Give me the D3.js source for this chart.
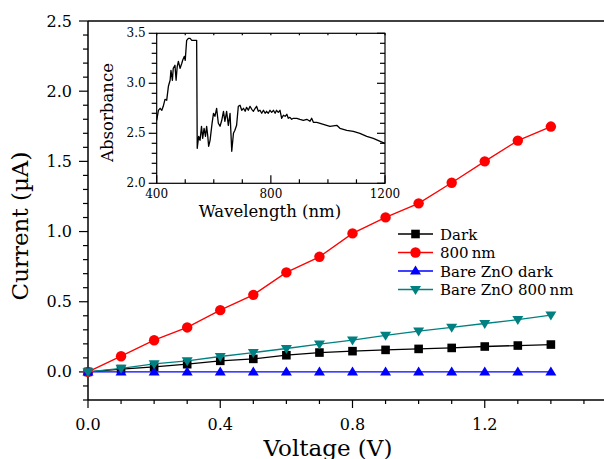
<!DOCTYPE html>
<html lang="en">
<head>
  <meta charset="UTF-8">
  <title>I-V curves with absorbance inset</title>
  <script src="https://d3js.org/d3.v7.min.js"></script>
  <style type="text/css">
    body { margin: 0; background: white; }
    svg { display: block; }
    text { font-family: "DejaVu Serif", serif; fill: black; }
    .axis path, .axis line { stroke: black; }
  </style>
</head>
<body>
<svg id="chart" width="604" height="459"></svg>
<script>

  // main plot data
  const voltage = [0, 0.1, 0.2, 0.3, 0.4, 0.5, 0.6, 0.7, 0.8, 0.9, 1.0, 1.1, 1.2, 1.3, 1.4];
  const dark      = [0, 0.02, 0.036, 0.055, 0.079, 0.093, 0.119, 0.138, 0.148, 0.157, 0.164, 0.171, 0.181, 0.188, 0.195];
  const nm800     = [0, 0.112, 0.226, 0.317, 0.44, 0.549, 0.709, 0.82, 0.987, 1.101, 1.201, 1.348, 1.50, 1.648, 1.748];
  const bareDark  = [0, 0, 0, 0, 0, 0, 0, 0, 0, 0, 0.001, 0.001, 0.001, 0.001, 0.001];
  const bare800   = [0, 0.026, 0.057, 0.079, 0.11, 0.138, 0.167, 0.198, 0.226, 0.26, 0.29, 0.317, 0.345, 0.372, 0.404];

  const seriesNames = ['Dark', '800\u2009nm', 'Bare ZnO dark', 'Bare ZnO 800\u2009nm'];
  const seriesColors = ['#000000', '#ff0000', '#0000ff', '#008080'];
  const seriesSymbols = ['square', 'circle', 'up', 'down'];
  const seriesValues = [dark, nm800, bareDark, bare800];

  const xTicks = [0.0, 0.4, 0.8, 1.2];
  const yTicks = [0.0, 0.5, 1.0, 1.5, 2.0, 2.5];

  // inset absorbance spectrum
  const wavelength = [400, 406, 412, 418, 423, 429, 435, 441, 447, 450, 455, 458, 464, 468, 472, 476, 482, 488, 491, 497,
    500, 505, 511, 517, 523, 528, 534, 540, 542, 547, 552, 557, 561, 566, 571, 575, 579, 582, 587, 594,
    599, 604, 610, 616, 622, 628, 634, 639, 645, 651, 657, 663, 669, 674, 680, 686, 692, 698, 704, 710,
    715, 721, 727, 733, 739, 745, 750, 756, 762, 768, 774, 780, 785, 791, 797, 803, 809, 815, 820, 826,
    832, 838, 844, 850, 856, 861, 867, 873, 879, 891, 902, 914, 926, 937, 943, 949, 961, 984, 1007, 1031,
    1042, 1066, 1089, 1112, 1136, 1159, 1183, 1200];
  const absorbance = [2.63, 2.73, 2.75, 2.73, 2.77, 2.84, 2.83, 2.97, 3.03, 3.13, 3.03, 3.15, 3.18, 3.03, 3.17, 3.22, 3.15, 3.20, 3.23, 3.27,
    3.23, 3.43, 3.45, 3.45, 3.43, 3.43, 3.43, 3.43, 2.35, 2.47, 2.43, 2.57, 2.45, 2.55, 2.47, 2.57, 2.47, 2.37, 2.43, 2.60,
    2.70, 2.67, 2.75, 2.60, 2.57, 2.63, 2.72, 2.62, 2.72, 2.58, 2.70, 2.32, 2.50, 2.53, 2.58, 2.77, 2.78, 2.73, 2.75, 2.72,
    2.76, 2.73, 2.77, 2.74, 2.72, 2.75, 2.77, 2.72, 2.73, 2.70, 2.73, 2.70, 2.72, 2.70, 2.73, 2.71, 2.73, 2.70, 2.73, 2.71,
    2.73, 2.65, 2.68, 2.67, 2.69, 2.65, 2.66, 2.64, 2.65, 2.65, 2.64, 2.63, 2.64, 2.62, 2.65, 2.61, 2.61, 2.59, 2.57, 2.58,
    2.55, 2.53, 2.52, 2.50, 2.47, 2.45, 2.42, 2.40];
  const insetXTicks = [400, 800, 1200];
  const insetYTicks = [2.0, 2.5, 3.0, 3.5];

  const svg = d3.select('#chart');

  // ---- main axes
  const x = d3.scaleLinear().domain([0, 1.6]).range([88, 617]);
  const y = d3.scaleLinear().domain([-0.2, 2.5]).range([400, 21]);

  const minorX = d3.range(0, 16).map(i => i / 10).filter(v => !xTicks.some(t => Math.abs(t - v) < 1e-6));
  const minorY = d3.range(-2, 26).map(i => i / 10).filter(v => !yTicks.some(t => Math.abs(t - v) < 1e-6));

  function drawTicks(g, scale, values, len, orient) {
    g.selectAll(null).data(values).enter().append('line')
      .attr('stroke', 'black').attr('stroke-width', 1.2)
      .each(function(d) {
        const p = scale(d);
        const s = d3.select(this);
        if (orient === 'left') s.attr('x1', 0).attr('x2', -len).attr('y1', p).attr('y2', p);
        if (orient === 'right') s.attr('x1', 0).attr('x2', len).attr('y1', p).attr('y2', p);
        if (orient === 'down') s.attr('y1', 0).attr('y2', len).attr('x1', p).attr('x2', p);
        if (orient === 'up') s.attr('y1', 0).attr('y2', -len).attr('x1', p).attr('x2', p);
      });
  }

  const frame = svg.append('g');
  frame.append('line').attr('x1', x(0)).attr('x2', 604).attr('y1', y(2.5)).attr('y2', y(2.5))
    .attr('stroke', 'black').attr('stroke-width', 1.5);
  frame.append('line').attr('x1', x(0)).attr('x2', 604).attr('y1', y(-0.2)).attr('y2', y(-0.2))
    .attr('stroke', 'black').attr('stroke-width', 1.5);
  frame.append('line').attr('x1', x(0)).attr('x2', x(0)).attr('y1', y(2.5)).attr('y2', y(-0.2))
    .attr('stroke', 'black').attr('stroke-width', 1.5);

  const gx = svg.append('g').attr('transform', `translate(0,${y(-0.2)})`);
  drawTicks(gx, x, xTicks, 8, 'down');
  drawTicks(gx, x, minorX, 4, 'down');
  gx.selectAll('text').data(xTicks).enter().append('text')
    .attr('x', d => x(d)).attr('y', 30).attr('text-anchor', 'middle')
    .style('font-size', '16px').text(d => d.toFixed(1));

  const gy = svg.append('g').attr('transform', `translate(${x(0)},0)`);
  drawTicks(gy, y, yTicks, 9, 'left');
  drawTicks(gy, y, minorY, 5, 'left');
  gy.selectAll('text').data(yTicks).enter().append('text')
    .attr('x', -16).attr('y', d => y(d) + 5.5).attr('text-anchor', 'end')
    .style('font-size', '16px').text(d => d.toFixed(1));

  svg.append('text').attr('x', 328).attr('y', 456).attr('text-anchor', 'middle')
    .style('font-size', '23px').text('Voltage (V)');
  svg.append('text').attr('transform', 'translate(28,226) rotate(-90)').attr('text-anchor', 'middle')
    .style('font-size', '23px').text('Current (\u00b5A)');

  // ---- markers
  function symbolPath(kind, r) {
    if (kind === 'square') return `M${-r},${-r}H${r}V${r}H${-r}Z`;
    if (kind === 'circle') return d3.symbol(d3.symbolCircle, Math.PI * r * r)();
    const h = r * 1.8, w = r * 1.1;
    if (kind === 'up') return `M0,${-h * 0.6}L${w},${h * 0.4}L${-w},${h * 0.4}Z`;
    return `M0,${h * 0.6}L${w},${-h * 0.4}L${-w},${-h * 0.4}Z`;
  }
  const markerSize = [4.3, 5.2, 5, 5];

  const line = d3.line().x(d => x(d[0])).y(d => y(d[1]));
  seriesValues.forEach((vals, k) => {
    const pts = voltage.map((v, i) => [v, vals[i]]);
    const g = svg.append('g');
    g.append('path').attr('d', line(pts)).attr('fill', 'none')
      .attr('stroke', seriesColors[k]).attr('stroke-width', 1.3);
    g.selectAll('path.m').data(pts).enter().append('path').attr('class', 'm')
      .attr('transform', d => `translate(${x(d[0])},${y(d[1])})`)
      .attr('d', symbolPath(seriesSymbols[k], markerSize[k]))
      .attr('fill', seriesColors[k]);
  });

  // ---- legend
  const legend = svg.append('g').attr('transform', 'translate(398,234)');
  seriesNames.forEach((name, k) => {
    const row = legend.append('g').attr('transform', `translate(0,${k * 18.5})`);
    row.append('line').attr('x1', 0).attr('x2', 35).attr('y1', 0).attr('y2', 0)
      .attr('stroke', seriesColors[k]).attr('stroke-width', 1.3);
    row.append('path').attr('transform', 'translate(17.5,0)')
      .attr('d', symbolPath(seriesSymbols[k], markerSize[k])).attr('fill', seriesColors[k]);
    row.append('text').attr('x', 42).attr('y', 5.5).style('font-size', '15px').text(name);
  });

  // ---- inset
  const ix = d3.scaleLinear().domain([400, 1200]).range([156.7, 385]);
  const iy = d3.scaleLinear().domain([2.0, 3.5]).range([183.3, 33.3]);
  const inset = svg.append('g');
  inset.append('rect').attr('x', ix(400)).attr('y', iy(3.5))
    .attr('width', ix(1200) - ix(400)).attr('height', iy(2.0) - iy(3.5))
    .attr('fill', 'white').attr('stroke', 'black').attr('stroke-width', 1.2);

  const insetMinorX = d3.range(400, 1201, 100).filter(v => !insetXTicks.includes(v));
  const insetMinorY = d3.range(20, 36).map(i => i / 10).filter(v => !insetYTicks.some(t => Math.abs(t - v) < 1e-6));

  const ibx = inset.append('g').attr('transform', `translate(0,${iy(2.0)})`);
  drawTicks(ibx, ix, insetXTicks, 8, 'up');
  drawTicks(ibx, ix, insetMinorX, 4, 'up');
  const itx = inset.append('g').attr('transform', `translate(0,${iy(3.5)})`);
  drawTicks(itx, ix, insetMinorX.concat(insetXTicks), 2, 'down');
  const ily = inset.append('g').attr('transform', `translate(${ix(400)},0)`);
  drawTicks(ily, iy, insetYTicks, 8, 'left');
  drawTicks(ily, iy, insetMinorY, 5, 'left');
  const iry = inset.append('g').attr('transform', `translate(${ix(1200)},0)`);
  drawTicks(iry, iy, insetYTicks, -8, 'right');
  drawTicks(iry, iy, insetMinorY, -5, 'right');

  inset.selectAll('text.ixt').data(insetXTicks).enter().append('text').attr('class', 'ixt')
    .attr('x', d => ix(d)).attr('y', iy(2.0) + 15).attr('text-anchor', 'middle')
    .style('font-size', '12px').text(d => d);
  inset.selectAll('text.iyt').data(insetYTicks).enter().append('text').attr('class', 'iyt')
    .attr('x', ix(400) - 11).attr('y', d => iy(d) + 4).attr('text-anchor', 'end')
    .style('font-size', '12px').text(d => d.toFixed(1));

  inset.append('text').attr('x', 270).attr('y', 217).attr('text-anchor', 'middle')
    .style('font-size', '16.5px').text('Wavelength (nm)');
  inset.append('text').attr('transform', 'translate(113,112.5) rotate(-90)').attr('text-anchor', 'middle')
    .style('font-size', '16.5px').text('Absorbance');

  const spectrum = wavelength.map((w, i) => [w, absorbance[i]]);
  inset.append('path')
    .attr('d', d3.line().x(d => ix(d[0])).y(d => iy(d[1]))(spectrum))
    .attr('fill', 'none').attr('stroke', 'black').attr('stroke-width', 1.3)
    .attr('stroke-linejoin', 'round');

</script>
</body>
</html>
